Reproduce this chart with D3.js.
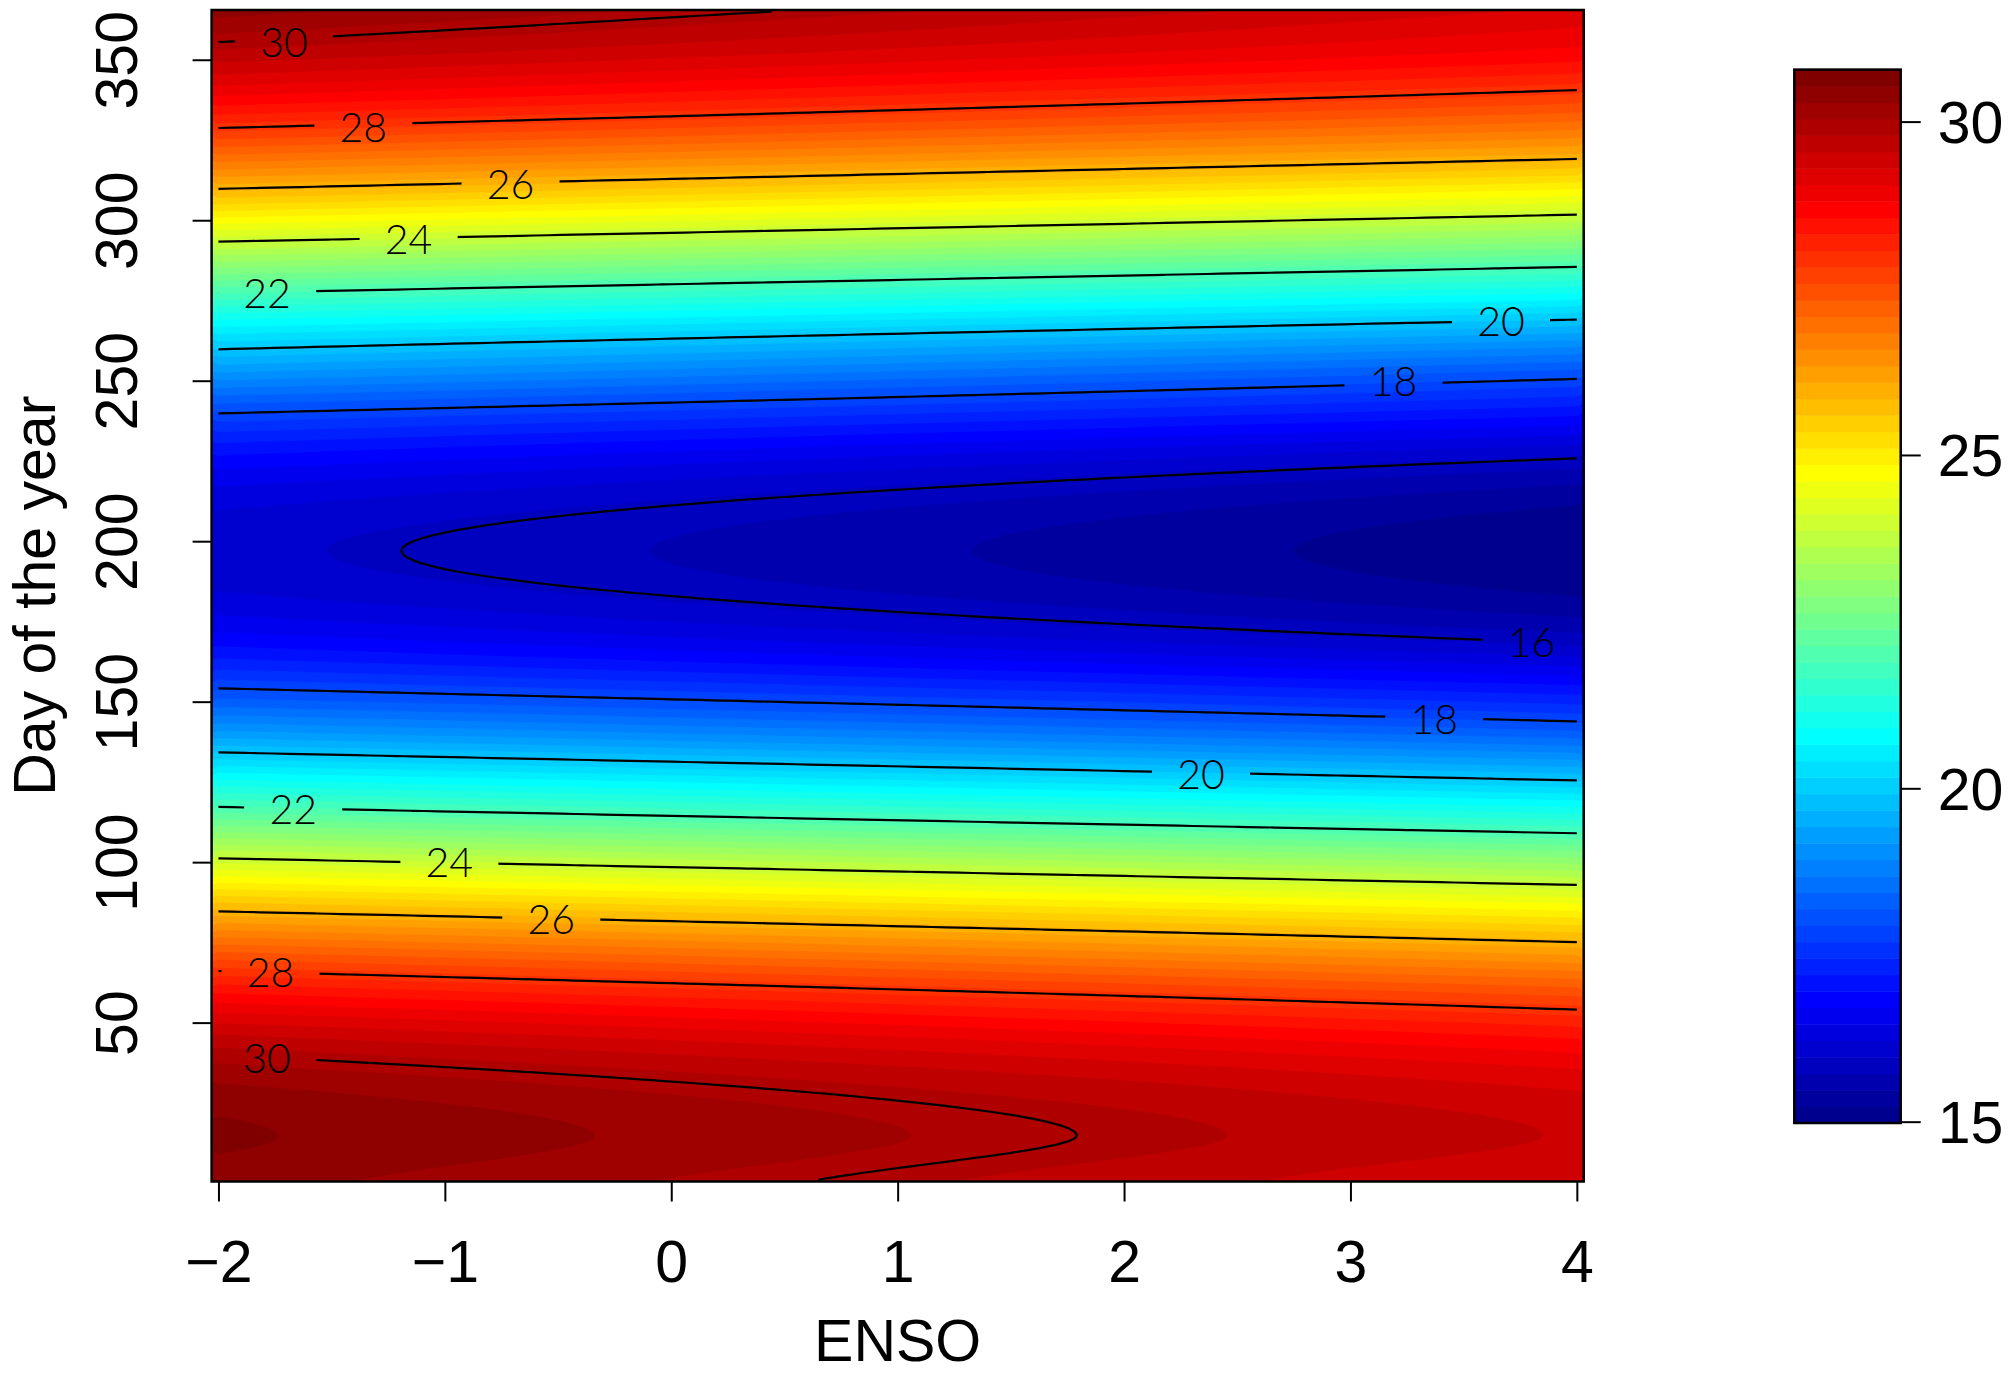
<!DOCTYPE html>
<html>
<head>
<meta charset="utf-8">
<script src="https://cdn.jsdelivr.net/npm/d3@7"></script>
<style>
  body { margin: 0; background: #fff; }
  svg text { font-family: "Liberation Sans", Arial, sans-serif; fill: #000; }
  .clabel { font-family: "Lato Light", "Roboto Light", "Open Sans Light", "DejaVu Sans ExtraLight", "Lato", "Roboto", sans-serif; font-weight: 300; }
</style>
</head>
<body>
<svg id="chart" width="2011" height="1374"></svg>
<script>
// sampled days of the year (every 14 days)
const days = [1, 15, 29, 43, 57, 71, 85, 99, 113, 127, 141, 155, 169, 183, 197,
              211, 225, 239, 253, 267, 281, 295, 309, 323, 337, 351, 365];
// fitted temperature at the two ends of the ENSO range
const ensoCols = [-2, 4];
const tempEnsoMinus2 = [30.49, 30.67, 30.44, 29.83, 28.82, 27.51, 25.96, 24.27, 22.51, 20.84, 19.25, 17.93, 16.94, 16.34, 16.14,
                        16.34, 16.94, 17.93, 19.31, 20.77, 22.45, 24.21, 25.91, 27.43, 28.75, 29.75, 30.46];
const tempEnso4 = [29.38, 29.61, 29.38, 28.76, 27.76, 26.42, 24.92, 23.26, 21.50, 19.82, 18.27, 17.05, 15.95, 15.31, 15.10,
                   15.31, 15.95, 17.04, 18.23, 19.76, 21.45, 23.18, 24.86, 26.41, 27.71, 28.74, 29.33];

// axis ticks
const xTicks = [-2, -1, 0, 1, 2, 3, 4];
const yTicks = [50, 100, 150, 200, 250, 300, 350];
const barTicks = [15, 20, 25, 30];
const zRange = [14.98, 30.78];

// contour lines and their labels
const lineLevels = [16, 18, 20, 22, 24, 26, 28, 30];
const labelLevels = [30, 28, 26, 24, 22, 20, 18, 16, 18, 20, 22, 24, 26, 28, 30];
const labelEnso = [-1.71, -1.36, -0.71, -1.16, -1.785, 3.665, 3.19, 3.80, 3.37, 2.34, -1.67, -0.98, -0.53, -1.77, -1.785];
const labelDay = [355.3, 328.9, 311.3, 294.0, 277.2, 268.6, 249.7, 168.5, 144.4, 127.5, 116.6, 99.9, 82.3, 65.6, 38.8];

// tim.colors(64)
const palette = ["#00008F","#00009F","#0000AF","#0000BF","#0000CF","#0000DF","#0000EF","#0000FF",
  "#0010FF","#0020FF","#0030FF","#0040FF","#0050FF","#0060FF","#0070FF","#0080FF",
  "#008FFF","#009FFF","#00AFFF","#00BFFF","#00CFFF","#00DFFF","#00EFFF","#00FFFF",
  "#10FFEF","#20FFDF","#30FFCF","#40FFBF","#50FFAF","#60FF9F","#70FF8F","#80FF80",
  "#8FFF70","#9FFF60","#AFFF50","#BFFF40","#CFFF30","#DFFF20","#EFFF10","#FFFF00",
  "#FFEF00","#FFDF00","#FFCF00","#FFBF00","#FFAF00","#FF9F00","#FF8F00","#FF8000",
  "#FF7000","#FF6000","#FF5000","#FF4000","#FF3000","#FF2000","#FF1000","#FF0000",
  "#EF0000","#DF0000","#CF0000","#BF0000","#AF0000","#9F0000","#8F0000","#800000"];

const svg = d3.select("#chart");
const plot = {left: 211.6, right: 1583.7, top: 10, bottom: 1181.5};
const bar = {left: 1794.3, right: 1900.7, top: 69.6, bottom: 1123};

// grid: 100 ENSO columns from -2 to 4, one row per day
const nx = 100, ny = 365;
const dxStep = (ensoCols[1] - ensoCols[0]) / (nx - 1);
const xScale = d3.scaleLinear().domain([ensoCols[0] - dxStep / 2, ensoCols[1] + dxStep / 2]).range([plot.left, plot.right]);
const yScale = d3.scaleLinear().domain([0.5, 365.5]).range([plot.bottom, plot.top]);

// smooth curve through the sampled days (catmull-rom)
function seasonal(values, d) {
  const t = (d - days[0]) / (days[1] - days[0]);
  const i = Math.max(0, Math.min(values.length - 2, Math.floor(t)));
  const u = t - i;
  const p1 = values[i], p2 = values[i + 1];
  const p0 = i > 0 ? values[i - 1] : 2 * p1 - p2;
  const p3 = i + 2 < values.length ? values[i + 2] : 2 * p2 - p1;
  return 0.5 * (2 * p1 + (-p0 + p2) * u + (2 * p0 - 5 * p1 + 4 * p2 - p3) * u * u + (-p0 + 3 * p1 - 3 * p2 + p3) * u * u * u);
}

const grid = new Array(nx * ny);
for (let j = 0; j < ny; j++) {
  const d = 1 + j;
  const row = d3.scaleLinear().domain(ensoCols).range([seasonal(tempEnsoMinus2, d), seasonal(tempEnso4, d)]);
  for (let i = 0; i < nx; i++) grid[j * nx + i] = row(ensoCols[0] + i * dxStep);
}

// grid coords -> data -> pixels
const gx = c => ensoCols[0] + (c - 0.5) * dxStep;
const gy = c => 1 + (c - 0.5);
const proj = d3.geoTransform({
  point: function(x, y) { this.stream.point(xScale(gx(x)), yScale(gy(y))); }
});
const path = d3.geoPath(proj);

// filled image, 64 levels (the image in the original sits ~0.1 below its contours)
const bandW = (zRange[1] - zRange[0]) / palette.length;
const imageShift = 0.09;
const thresholds = palette.map((c, k) => k === 0 ? d3.min(grid) - 1 : zRange[0] + k * bandW + imageShift);
const bands = d3.contours().size([nx, ny]).thresholds(thresholds)(grid);
svg.append("g").selectAll("path")
  .data(bands)
  .join("path")
  .attr("d", path)
  .attr("fill", (d, k) => palette[k])
  .attr("stroke", (d, k) => palette[k])
  .attr("stroke-width", 0.5);

// contour lines: drop the parts that run along the grid border
const lines = d3.contours().size([nx, ny]).smooth(true).thresholds(lineLevels)(grid);
const inside = p => p[0] >= 0.5 - 1e-9 && p[0] <= nx - 0.5 + 1e-9 && p[1] >= 0.5 - 1e-9 && p[1] <= ny - 0.5 + 1e-9;
const polylines = [];
lines.forEach(mp => {
  mp.coordinates.forEach(poly => poly.forEach(ring => {
    let pts = ring.slice(0, -1);
    const start = pts.findIndex(p => !inside(p));
    if (start < 0) { polylines.push(ring); return; }
    pts = pts.slice(start).concat(pts.slice(0, start));
    let cur = [];
    pts.concat([pts[0]]).forEach(p => {
      if (inside(p)) cur.push(p);
      else { if (cur.length > 1) polylines.push(cur); cur = []; }
    });
  }));
});

const defs = svg.append("defs");
const mask = defs.append("mask").attr("id", "labelGaps").attr("maskUnits", "userSpaceOnUse")
  .attr("x", 0).attr("y", 0).attr("width", 2011).attr("height", 1374);
mask.append("rect").attr("width", 2011).attr("height", 1374).attr("fill", "#fff");
mask.selectAll("rect.gap")
  .data(labelLevels)
  .join("rect")
  .attr("class", "gap")
  .attr("x", (d, i) => xScale(labelEnso[i]) - 49)
  .attr("y", (d, i) => yScale(labelDay[i]) - 20)
  .attr("width", 98)
  .attr("height", 40)
  .attr("fill", "#000");

const line = d3.line().x(p => xScale(gx(p[0]))).y(p => yScale(gy(p[1])));
svg.append("g")
  .attr("mask", "url(#labelGaps)")
  .selectAll("path")
  .data(polylines)
  .join("path")
  .attr("d", line)
  .attr("fill", "none")
  .attr("stroke", "#000")
  .attr("stroke-width", 2.2);

svg.append("g").selectAll("text")
  .data(labelLevels)
  .join("text")
  .attr("class", "clabel")
  .attr("x", (d, i) => xScale(labelEnso[i]))
  .attr("y", (d, i) => yScale(labelDay[i]))
  .attr("dy", "0.36em")
  .attr("text-anchor", "middle")
  .attr("font-size", 41)
  .text(d => d);

// frame
svg.append("rect")
  .attr("x", plot.left).attr("y", plot.top)
  .attr("width", plot.right - plot.left).attr("height", plot.bottom - plot.top)
  .attr("fill", "none").attr("stroke", "#000").attr("stroke-width", 2.5);

// x axis
const xAxis = svg.append("g")
  .attr("transform", `translate(0,${plot.bottom})`)
  .call(d3.axisBottom(xScale).tickValues(xTicks).tickSize(20).tickFormat(d3.format("d")));
xAxis.select(".domain").remove();
xAxis.selectAll("line").attr("stroke-width", 2);
xAxis.selectAll("text").attr("y", 100.5).attr("dy", 0).attr("font-size", 59)
  .style("font-family", "'Liberation Sans', Arial, sans-serif");

// y axis
const yAxis = svg.append("g")
  .attr("transform", `translate(${plot.left},0)`)
  .call(d3.axisLeft(yScale).tickValues(yTicks).tickSize(19));
yAxis.select(".domain").remove();
yAxis.selectAll("line").attr("stroke-width", 2);
yAxis.selectAll("text")
  .attr("x", 0).attr("y", 0).attr("dy", 0)
  .attr("text-anchor", "middle")
  .attr("transform", `translate(${136.7 - plot.left},0) rotate(-90)`)
  .attr("font-size", 59)
  .style("font-family", "'Liberation Sans', Arial, sans-serif");

// axis titles
svg.append("text")
  .attr("x", (plot.left + plot.right) / 2).attr("y", 1361)
  .attr("text-anchor", "middle").attr("font-size", 59)
  .text("ENSO");
svg.append("text")
  .attr("transform", `translate(55,${(plot.top + plot.bottom) / 2}) rotate(-90)`)
  .attr("text-anchor", "middle").attr("font-size", 59)
  .text("Day of the year");

// colour bar
const zScale = d3.scaleLinear().domain(zRange).range([bar.bottom, bar.top]);
svg.append("g").selectAll("rect")
  .data(palette)
  .join("rect")
  .attr("x", bar.left)
  .attr("width", bar.right - bar.left)
  .attr("y", (c, k) => zScale(zRange[0] + (k + 1) * bandW))
  .attr("height", (c, k) => zScale(zRange[0] + k * bandW) - zScale(zRange[0] + (k + 1) * bandW) + 0.5)
  .attr("fill", c => c);
svg.append("rect")
  .attr("x", bar.left).attr("y", bar.top)
  .attr("width", bar.right - bar.left).attr("height", bar.bottom - bar.top)
  .attr("fill", "none").attr("stroke", "#000").attr("stroke-width", 2.5);
const zAxis = svg.append("g")
  .attr("transform", `translate(${bar.right},0)`)
  .call(d3.axisRight(zScale).tickValues(barTicks).tickSize(20));
zAxis.select(".domain").remove();
zAxis.selectAll("line").attr("stroke-width", 2);
zAxis.selectAll("text").attr("x", 37).attr("dy", "0.355em").attr("font-size", 59)
  .style("font-family", "'Liberation Sans', Arial, sans-serif");
</script>
</body>
</html>
